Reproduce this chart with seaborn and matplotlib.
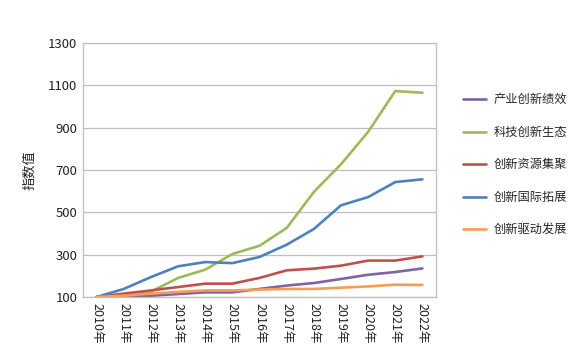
import numpy as np
import pandas as pd
import matplotlib
matplotlib.use("Agg")
import matplotlib.pyplot as plt
import seaborn as sns

years = ["2010年", "2011年", "2012年", "2013年", "2014年", "2015年", "2016年",
         "2017年", "2018年", "2019年", "2020年", "2021年", "2022年"]
series_names = ["产业创新绩效", "科技创新生态", "创新资源集聚", "创新国际拓展", "创新驱动发展"]
chanye = [100, 103, 106, 114, 122, 122, 138, 154, 166, 185, 205, 218, 235]
keji = [100, 110, 125, 190, 229, 303, 342, 426, 596, 727, 880, 1073, 1065]
ziyuan = [100, 116, 131, 147, 163, 163, 190, 226, 234, 248, 272, 272, 292]
guoji = [100, 138, 194, 245, 265, 260, 289, 347, 421, 533, 572, 643, 656]
qudong = [100, 106, 116, 124, 131, 131, 135, 138, 138, 144, 150, 158, 157]
colors = ["#8064A2", "#9BBB59", "#C0504D", "#4F81BD", "#F59D56"]
yticks = [100, 300, 500, 700, 900, 1100, 1300]

values = [chanye, keji, ziyuan, guoji, qudong]
rows = []
for name, vals in zip(series_names, values):
    for i, (yr, v) in enumerate(zip(years, vals)):
        rows.append({"idx": i, "year": yr, "series": name, "value": v})
df = pd.DataFrame(rows)

sns.set_theme(style="white")
plt.rcParams["font.family"] = ["Noto Sans CJK SC", "DejaVu Sans"]

fig = plt.figure(figsize=(5.81, 3.58), dpi=100)
ax = fig.add_axes([0.1429, 0.1704, 0.6075, 0.7095])

sns.lineplot(data=df, x="idx", y="value", hue="series", hue_order=series_names,
             palette=colors, linewidth=1.9, ax=ax, legend=True)

ax.set_xlim(-0.5, len(years) - 0.5)
ax.set_ylim(100, 1300)
ax.set_yticks(yticks)
ax.set_yticklabels([str(t) for t in yticks], fontsize=9.5, color="#222222")
ax.set_xticks(range(len(years)))
ax.set_xticklabels(years, rotation=270, fontsize=9, color="#222222")
ax.tick_params(axis="both", length=0, pad=4)
ax.yaxis.grid(True, color="#BFBFBF", linewidth=0.9)
ax.set_axisbelow(True)
for s in ax.spines.values():
    s.set_color("#BFBFBF")
    s.set_linewidth(0.9)
ax.set_xlabel("")
ax.set_ylabel("指数值", fontsize=9.5, color="#222222", labelpad=9)

handles, labels = ax.get_legend_handles_labels()
ax.legend(handles, labels, loc="center left", bbox_to_anchor=(1.045, 0.52),
          frameon=False, fontsize=8.8, labelspacing=1.6, handlelength=1.9,
          handletextpad=0.6)

fig.savefig("out.png", dpi=100)
